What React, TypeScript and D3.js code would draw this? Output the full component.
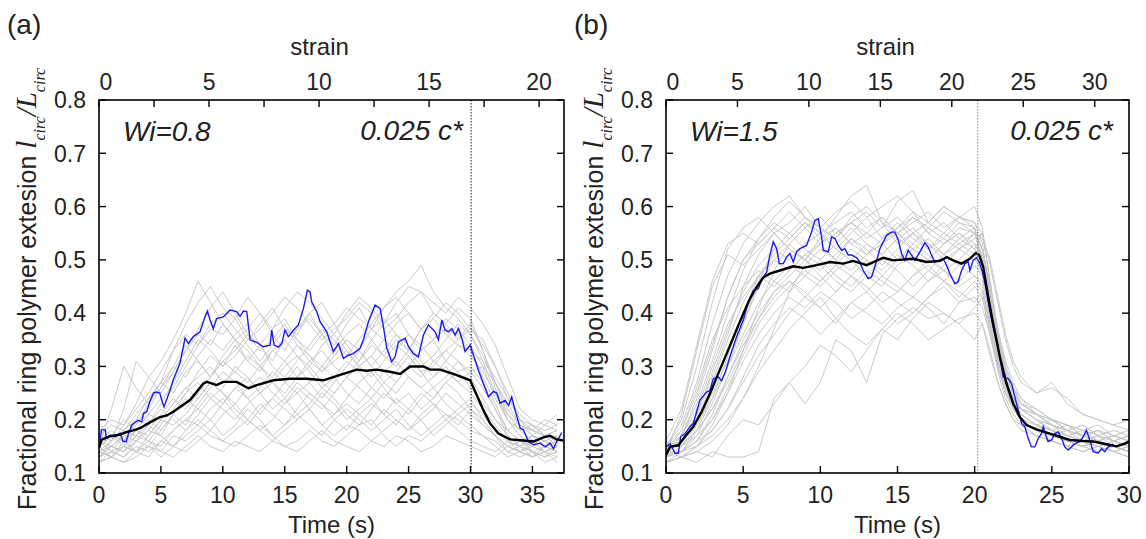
import React from "react";
import * as d3 from "d3";

// ---- panel (a) data ----
const leftTimes = [0,1,2,3,4,5,6,7,8,9,10,11,12,13,14,15,16,17,18,19,20,21,22,23,24,25,26,27,28,29,30,31,32,33,34,35,36,37];
const leftGray = [
  [0.15,0.17,0.16,0.2,0.24,0.27,0.33,0.38,0.42,0.45,0.41,0.39,0.43,0.4,0.37,0.41,0.44,0.42,0.39,0.36,0.4,0.43,0.41,0.38,0.42,0.45,0.44,0.4,0.38,0.41,0.39,0.33,0.27,0.22,0.19,0.18,0.17,0.16],
  [0.14,0.13,0.16,0.18,0.21,0.24,0.26,0.3,0.34,0.37,0.36,0.39,0.35,0.38,0.41,0.37,0.36,0.4,0.42,0.38,0.41,0.39,0.37,0.41,0.44,0.46,0.49,0.44,0.41,0.39,0.36,0.31,0.25,0.2,0.17,0.15,0.14,0.15],
  [0.18,0.2,0.19,0.23,0.28,0.31,0.35,0.4,0.46,0.42,0.38,0.35,0.37,0.4,0.36,0.33,0.37,0.39,0.36,0.34,0.38,0.41,0.37,0.35,0.38,0.4,0.37,0.35,0.39,0.37,0.34,0.3,0.24,0.2,0.18,0.19,0.17,0.18],
  [0.13,0.16,0.22,0.31,0.28,0.25,0.29,0.33,0.36,0.34,0.38,0.35,0.31,0.34,0.37,0.39,0.35,0.33,0.36,0.38,0.34,0.31,0.35,0.38,0.4,0.36,0.33,0.35,0.37,0.36,0.33,0.28,0.23,0.18,0.16,0.15,0.17,0.16],
  [0.16,0.15,0.17,0.19,0.22,0.26,0.3,0.28,0.32,0.35,0.33,0.36,0.38,0.34,0.31,0.35,0.37,0.4,0.36,0.32,0.35,0.33,0.37,0.39,0.36,0.33,0.37,0.4,0.38,0.35,0.37,0.34,0.3,0.25,0.2,0.17,0.16,0.17],
  [0.12,0.14,0.13,0.16,0.19,0.17,0.21,0.25,0.29,0.32,0.3,0.34,0.31,0.29,0.33,0.35,0.32,0.3,0.34,0.36,0.33,0.3,0.32,0.35,0.33,0.36,0.34,0.31,0.33,0.35,0.38,0.33,0.26,0.2,0.17,0.14,0.13,0.14],
  [0.17,0.19,0.18,0.21,0.24,0.27,0.25,0.29,0.31,0.28,0.32,0.35,0.33,0.3,0.28,0.31,0.34,0.32,0.29,0.31,0.33,0.3,0.28,0.31,0.34,0.32,0.29,0.3,0.33,0.31,0.29,0.26,0.22,0.18,0.16,0.17,0.19,0.18],
  [0.14,0.13,0.15,0.14,0.17,0.2,0.23,0.26,0.28,0.3,0.27,0.29,0.32,0.3,0.27,0.25,0.28,0.31,0.33,0.3,0.28,0.3,0.32,0.29,0.27,0.3,0.33,0.35,0.31,0.29,0.3,0.27,0.22,0.17,0.15,0.14,0.13,0.15],
  [0.15,0.17,0.2,0.18,0.16,0.19,0.22,0.25,0.27,0.24,0.26,0.3,0.28,0.25,0.27,0.3,0.32,0.29,0.26,0.28,0.31,0.29,0.26,0.24,0.27,0.3,0.28,0.31,0.29,0.27,0.29,0.3,0.27,0.23,0.19,0.17,0.15,0.16],
  [0.13,0.15,0.14,0.16,0.15,0.18,0.21,0.19,0.23,0.26,0.29,0.27,0.24,0.26,0.29,0.27,0.25,0.27,0.3,0.28,0.25,0.23,0.26,0.29,0.31,0.28,0.26,0.28,0.3,0.27,0.25,0.22,0.19,0.16,0.14,0.13,0.15,0.14],
  [0.19,0.17,0.16,0.18,0.21,0.2,0.23,0.26,0.24,0.27,0.25,0.23,0.26,0.28,0.25,0.23,0.26,0.24,0.22,0.25,0.28,0.26,0.24,0.27,0.25,0.28,0.26,0.24,0.27,0.29,0.26,0.23,0.2,0.18,0.2,0.19,0.17,0.18],
  [0.16,0.14,0.15,0.17,0.16,0.15,0.18,0.2,0.22,0.25,0.23,0.26,0.28,0.25,0.22,0.24,0.27,0.25,0.23,0.21,0.24,0.27,0.29,0.26,0.23,0.25,0.22,0.24,0.27,0.25,0.22,0.2,0.17,0.15,0.16,0.14,0.15,0.16],
  [0.14,0.16,0.18,0.17,0.19,0.22,0.2,0.18,0.21,0.24,0.22,0.2,0.23,0.25,0.27,0.24,0.21,0.23,0.26,0.24,0.21,0.19,0.22,0.25,0.23,0.21,0.24,0.26,0.23,0.21,0.23,0.21,0.18,0.16,0.15,0.17,0.16,0.15],
  [0.12,0.13,0.15,0.14,0.13,0.16,0.18,0.2,0.19,0.22,0.24,0.21,0.19,0.22,0.24,0.22,0.2,0.22,0.25,0.23,0.2,0.22,0.24,0.21,0.19,0.22,0.25,0.23,0.2,0.22,0.24,0.2,0.17,0.14,0.13,0.14,0.12,0.13],
  [0.17,0.15,0.14,0.16,0.18,0.17,0.15,0.18,0.2,0.18,0.21,0.23,0.2,0.18,0.2,0.23,0.25,0.22,0.19,0.21,0.23,0.21,0.19,0.22,0.2,0.18,0.21,0.23,0.21,0.19,0.22,0.19,0.17,0.15,0.14,0.16,0.17,0.15],
  [0.15,0.13,0.12,0.14,0.16,0.14,0.17,0.16,0.18,0.2,0.17,0.19,0.22,0.2,0.17,0.19,0.21,0.19,0.17,0.2,0.22,0.2,0.18,0.2,0.22,0.19,0.17,0.19,0.21,0.2,0.18,0.17,0.15,0.13,0.14,0.13,0.14,0.13],
  [0.13,0.14,0.13,0.15,0.14,0.16,0.15,0.17,0.19,0.17,0.16,0.18,0.2,0.18,0.16,0.18,0.2,0.22,0.19,0.17,0.19,0.18,0.16,0.18,0.2,0.18,0.2,0.17,0.19,0.21,0.19,0.17,0.16,0.14,0.15,0.14,0.13,0.14],
  [0.16,0.18,0.16,0.14,0.15,0.13,0.15,0.14,0.16,0.18,0.16,0.15,0.17,0.19,0.17,0.15,0.16,0.18,0.16,0.15,0.17,0.19,0.2,0.17,0.15,0.17,0.16,0.18,0.2,0.18,0.16,0.15,0.14,0.16,0.15,0.13,0.15,0.14],
  [0.12,0.13,0.12,0.13,0.15,0.14,0.13,0.15,0.17,0.15,0.14,0.16,0.15,0.14,0.16,0.15,0.14,0.16,0.18,0.16,0.15,0.14,0.16,0.15,0.17,0.16,0.14,0.15,0.17,0.16,0.15,0.14,0.13,0.15,0.14,0.13,0.14,0.12],
  [0.15,0.22,0.3,0.26,0.23,0.27,0.3,0.34,0.31,0.28,0.31,0.33,0.36,0.34,0.3,0.28,0.31,0.34,0.37,0.35,0.32,0.35,0.38,0.41,0.43,0.4,0.37,0.39,0.42,0.4,0.37,0.35,0.3,0.24,0.2,0.18,0.17,0.16],
  [0.17,0.16,0.18,0.2,0.19,0.23,0.27,0.31,0.35,0.33,0.3,0.32,0.35,0.37,0.4,0.43,0.41,0.38,0.35,0.37,0.39,0.42,0.4,0.37,0.39,0.42,0.44,0.42,0.4,0.43,0.41,0.38,0.34,0.28,0.22,0.2,0.19,0.21],
  [0.14,0.15,0.17,0.16,0.18,0.21,0.24,0.22,0.25,0.28,0.31,0.29,0.27,0.3,0.33,0.31,0.28,0.3,0.27,0.25,0.28,0.31,0.34,0.32,0.35,0.33,0.3,0.32,0.35,0.38,0.36,0.32,0.27,0.21,0.19,0.18,0.2,0.19],
  [0.16,0.14,0.17,0.19,0.23,0.26,0.29,0.33,0.37,0.41,0.44,0.4,0.36,0.33,0.35,0.38,0.34,0.31,0.29,0.32,0.35,0.33,0.3,0.33,0.36,0.34,0.31,0.28,0.31,0.34,0.32,0.29,0.25,0.21,0.18,0.16,0.15,0.17],
  [0.13,0.15,0.14,0.17,0.2,0.18,0.21,0.24,0.22,0.2,0.23,0.26,0.24,0.21,0.24,0.27,0.3,0.27,0.24,0.27,0.3,0.33,0.3,0.27,0.29,0.32,0.29,0.26,0.28,0.31,0.28,0.24,0.2,0.17,0.15,0.16,0.14,0.15],
  [0.18,0.16,0.19,0.22,0.25,0.29,0.33,0.36,0.34,0.38,0.4,0.37,0.34,0.31,0.34,0.37,0.35,0.32,0.3,0.33,0.36,0.38,0.35,0.32,0.3,0.33,0.37,0.39,0.36,0.34,0.33,0.31,0.28,0.24,0.21,0.19,0.18,0.19],
  [0.15,0.17,0.15,0.18,0.17,0.2,0.19,0.21,0.24,0.27,0.25,0.22,0.2,0.23,0.21,0.19,0.22,0.25,0.23,0.2,0.18,0.21,0.23,0.21,0.24,0.22,0.2,0.22,0.25,0.23,0.21,0.19,0.17,0.15,0.14,0.15,0.16,0.14],
];
const leftBlue = [
  [0.08,0.162],[0.2,0.181],[0.5,0.181],[0.6,0.166],[0.9,0.171],[1.3,0.168],[1.7,0.175],[1.95,0.159],[2.2,0.159],[2.4,0.175],[2.65,0.19],[3.15,0.199],[3.45,0.196],[3.6,0.212],[3.85,0.215],[4.1,0.234],[4.4,0.25],[4.65,0.252],[4.9,0.25],[5.15,0.231],[5.25,0.224],[5.45,0.237],[5.75,0.256],[6.0,0.275],[6.54,0.306],[6.95,0.353],[7.22,0.343],[7.62,0.356],[8.16,0.365],[8.56,0.393],[8.75,0.404],[8.97,0.387],[9.23,0.371],[9.5,0.39],[10.04,0.393],[10.58,0.406],[11.12,0.403],[11.39,0.394],[11.66,0.404],[11.93,0.403],[12.2,0.35],[12.74,0.345],[13.27,0.337],[13.81,0.34],[13.95,0.368],[14.14,0.34],[14.49,0.336],[14.76,0.343],[15.02,0.368],[15.29,0.356],[15.7,0.368],[16.1,0.378],[16.51,0.409],[16.83,0.443],[17.04,0.44],[17.18,0.421],[17.58,0.403],[17.85,0.384],[18.39,0.365],[18.93,0.328],[19.33,0.343],[19.74,0.315],[20.14,0.321],[20.54,0.324],[21.08,0.334],[21.35,0.35],[21.76,0.384],[22.29,0.415],[22.7,0.409],[22.97,0.374],[23.24,0.334],[23.64,0.309],[23.91,0.318],[24.18,0.346],[24.72,0.353],[24.99,0.337],[25.39,0.324],[25.79,0.318],[26.2,0.359],[26.6,0.378],[27.14,0.365],[27.41,0.35],[27.68,0.387],[27.95,0.368],[28.22,0.365],[28.49,0.371],[28.76,0.359],[29.03,0.371],[29.3,0.353],[29.56,0.328],[29.97,0.34],[30.24,0.321],[30.64,0.293],[31.04,0.268],[31.45,0.243],[31.85,0.253],[32.12,0.25],[32.39,0.231],[32.79,0.236],[33.07,0.227],[33.33,0.243],[33.6,0.218],[34.01,0.184],[34.27,0.181],[34.68,0.159],[35.08,0.153],[35.62,0.156],[36.03,0.149],[36.43,0.156],[36.7,0.146],[36.97,0.159],[37.37,0.176],
];
const leftBlack = [
  [0,0.147],[0.2,0.162],[0.9,0.169],[1.7,0.172],[2.23,0.177],[2.77,0.18],[3.31,0.184],[4.12,0.195],[4.93,0.205],[5.47,0.208],[6.0,0.215],[7.35,0.237],[8.43,0.268],[8.7,0.271],[9.5,0.265],[10.04,0.271],[11.12,0.271],[12.06,0.259],[12.74,0.265],[14.08,0.274],[15.43,0.277],[16.77,0.277],[18.12,0.274],[19.47,0.284],[20.81,0.294],[21.62,0.292],[22.43,0.294],[23.5,0.29],[24.31,0.286],[25.12,0.3],[26.2,0.3],[26.74,0.294],[27.54,0.294],[28.62,0.286],[29.97,0.274],[30.51,0.246],[31.04,0.218],[31.58,0.193],[32.26,0.174],[33.2,0.163],[34.27,0.161],[35.08,0.159],[35.89,0.167],[36.43,0.17],[36.97,0.163],[37.5,0.161],
];

// ---- panel (b) data ----
const rightTimes = [0,1,2,3,4,5,6,7,8,9,10,11,12,13,14,15,16,17,18,19,20,20.5,21,21.5,22,22.5,23,24,25,26,27,28,29,30];
const rightGray = [
  [0.15,0.2,0.3,0.42,0.52,0.56,0.58,0.55,0.57,0.6,0.56,0.54,0.58,0.6,0.57,0.55,0.58,0.56,0.59,0.57,0.56,0.48,0.38,0.3,0.25,0.22,0.2,0.18,0.17,0.16,0.15,0.16,0.15,0.14],
  [0.13,0.17,0.24,0.33,0.43,0.5,0.53,0.56,0.54,0.57,0.55,0.52,0.55,0.58,0.54,0.56,0.59,0.55,0.53,0.56,0.55,0.5,0.41,0.33,0.27,0.23,0.21,0.19,0.17,0.18,0.16,0.17,0.15,0.16],
  [0.14,0.16,0.21,0.28,0.36,0.45,0.51,0.55,0.52,0.5,0.54,0.58,0.62,0.64,0.57,0.53,0.55,0.52,0.54,0.57,0.55,0.52,0.44,0.35,0.29,0.25,0.22,0.2,0.18,0.17,0.18,0.16,0.17,0.16],
  [0.15,0.15,0.19,0.25,0.31,0.38,0.45,0.5,0.53,0.5,0.48,0.51,0.54,0.52,0.49,0.52,0.55,0.53,0.5,0.52,0.54,0.55,0.46,0.37,0.3,0.26,0.24,0.22,0.2,0.19,0.18,0.17,0.18,0.17],
  [0.12,0.13,0.15,0.19,0.25,0.33,0.41,0.48,0.53,0.56,0.58,0.55,0.57,0.59,0.56,0.61,0.63,0.57,0.55,0.58,0.56,0.5,0.4,0.32,0.27,0.24,0.22,0.2,0.19,0.17,0.16,0.15,0.16,0.15],
  [0.14,0.18,0.26,0.35,0.41,0.45,0.48,0.46,0.49,0.47,0.45,0.48,0.5,0.47,0.45,0.49,0.51,0.48,0.46,0.49,0.51,0.47,0.4,0.32,0.26,0.22,0.2,0.18,0.16,0.15,0.16,0.14,0.15,0.14],
  [0.13,0.15,0.18,0.22,0.28,0.34,0.39,0.43,0.46,0.44,0.41,0.44,0.47,0.45,0.42,0.44,0.47,0.49,0.46,0.43,0.46,0.44,0.38,0.31,0.26,0.23,0.21,0.19,0.18,0.17,0.16,0.17,0.16,0.15],
  [0.14,0.14,0.16,0.18,0.22,0.27,0.32,0.36,0.4,0.43,0.41,0.38,0.42,0.44,0.41,0.38,0.4,0.43,0.45,0.42,0.43,0.41,0.36,0.3,0.25,0.22,0.2,0.18,0.17,0.16,0.15,0.14,0.15,0.14],
  [0.13,0.14,0.15,0.17,0.2,0.24,0.29,0.33,0.37,0.4,0.43,0.39,0.36,0.34,0.37,0.4,0.38,0.35,0.37,0.39,0.4,0.38,0.32,0.27,0.23,0.2,0.19,0.17,0.16,0.15,0.14,0.15,0.14,0.13],
  [0.12,0.13,0.12,0.14,0.13,0.13,0.14,0.24,0.27,0.23,0.27,0.35,0.33,0.27,0.36,0.39,0.41,0.39,0.4,0.38,0.35,0.38,0.33,0.27,0.23,0.2,0.18,0.17,0.16,0.15,0.14,0.15,0.14,0.13],
  [0.12,0.13,0.14,0.13,0.17,0.2,0.19,0.23,0.27,0.3,0.34,0.32,0.29,0.33,0.37,0.35,0.39,0.42,0.4,0.38,0.41,0.43,0.36,0.29,0.24,0.21,0.19,0.17,0.16,0.15,0.16,0.15,0.14,0.15],
  [0.16,0.22,0.34,0.46,0.53,0.55,0.53,0.56,0.59,0.56,0.53,0.55,0.57,0.54,0.56,0.58,0.55,0.57,0.6,0.58,0.57,0.53,0.43,0.34,0.28,0.24,0.22,0.2,0.19,0.18,0.17,0.18,0.17,0.16],
  [0.14,0.16,0.2,0.27,0.35,0.42,0.47,0.5,0.48,0.51,0.53,0.5,0.48,0.51,0.53,0.5,0.52,0.54,0.51,0.53,0.55,0.54,0.5,0.43,0.36,0.31,0.28,0.25,0.26,0.24,0.21,0.2,0.19,0.2],
  [0.13,0.14,0.17,0.23,0.3,0.38,0.46,0.52,0.55,0.52,0.5,0.53,0.56,0.53,0.51,0.54,0.52,0.5,0.53,0.55,0.52,0.5,0.42,0.33,0.27,0.23,0.21,0.19,0.2,0.18,0.17,0.16,0.17,0.16],
  [0.15,0.16,0.19,0.24,0.3,0.36,0.42,0.46,0.44,0.47,0.5,0.47,0.45,0.48,0.46,0.44,0.47,0.5,0.48,0.45,0.47,0.45,0.38,0.31,0.26,0.23,0.22,0.2,0.18,0.19,0.17,0.16,0.17,0.16],
  [0.14,0.17,0.23,0.31,0.4,0.48,0.54,0.58,0.61,0.58,0.56,0.59,0.61,0.58,0.6,0.62,0.59,0.57,0.6,0.58,0.6,0.56,0.45,0.35,0.28,0.24,0.21,0.19,0.18,0.17,0.16,0.15,0.16,0.15],
  [0.13,0.15,0.18,0.22,0.27,0.33,0.39,0.44,0.47,0.5,0.47,0.44,0.47,0.5,0.48,0.51,0.49,0.46,0.49,0.52,0.5,0.49,0.41,0.33,0.28,0.25,0.23,0.21,0.19,0.18,0.17,0.18,0.16,0.17],
  [0.16,0.15,0.17,0.2,0.25,0.31,0.36,0.4,0.43,0.41,0.44,0.42,0.39,0.41,0.44,0.42,0.4,0.43,0.46,0.44,0.42,0.44,0.37,0.3,0.26,0.24,0.22,0.21,0.19,0.18,0.19,0.17,0.16,0.17],
  [0.12,0.13,0.14,0.16,0.19,0.24,0.3,0.37,0.44,0.49,0.52,0.5,0.54,0.51,0.53,0.55,0.52,0.5,0.53,0.55,0.53,0.51,0.43,0.34,0.28,0.24,0.21,0.19,0.18,0.16,0.15,0.16,0.15,0.14],
  [0.15,0.18,0.25,0.34,0.43,0.5,0.54,0.57,0.55,0.58,0.56,0.54,0.57,0.55,0.53,0.56,0.58,0.55,0.57,0.54,0.56,0.52,0.44,0.36,0.3,0.26,0.23,0.22,0.2,0.19,0.18,0.19,0.17,0.18],
  [0.14,0.16,0.21,0.29,0.37,0.44,0.49,0.52,0.5,0.53,0.55,0.52,0.5,0.53,0.51,0.54,0.56,0.53,0.51,0.54,0.52,0.55,0.49,0.42,0.35,0.3,0.27,0.25,0.27,0.23,0.21,0.2,0.19,0.18],
  [0.13,0.14,0.16,0.21,0.28,0.35,0.4,0.44,0.46,0.43,0.46,0.49,0.47,0.44,0.47,0.45,0.43,0.46,0.48,0.46,0.49,0.47,0.4,0.32,0.27,0.23,0.2,0.18,0.17,0.16,0.15,0.14,0.15,0.16],
  [0.15,0.19,0.27,0.38,0.47,0.53,0.57,0.6,0.62,0.58,0.55,0.57,0.59,0.56,0.58,0.55,0.57,0.59,0.56,0.58,0.57,0.55,0.46,0.36,0.29,0.25,0.23,0.21,0.19,0.17,0.16,0.17,0.16,0.15],
  [0.14,0.13,0.15,0.18,0.22,0.28,0.34,0.38,0.41,0.39,0.36,0.39,0.42,0.4,0.38,0.41,0.43,0.41,0.38,0.42,0.45,0.43,0.36,0.3,0.25,0.22,0.2,0.19,0.17,0.16,0.15,0.16,0.14,0.15],
  [0.14,0.21,0.33,0.45,0.51,0.49,0.52,0.55,0.52,0.5,0.53,0.56,0.53,0.51,0.54,0.57,0.54,0.52,0.55,0.53,0.51,0.5,0.41,0.33,0.27,0.24,0.22,0.21,0.19,0.18,0.17,0.16,0.17,0.16],
  [0.13,0.14,0.18,0.24,0.32,0.4,0.47,0.51,0.54,0.57,0.54,0.56,0.53,0.55,0.58,0.55,0.53,0.56,0.54,0.52,0.55,0.52,0.45,0.37,0.31,0.27,0.24,0.21,0.2,0.18,0.19,0.17,0.16,0.17],
  [0.15,0.17,0.22,0.3,0.38,0.43,0.47,0.45,0.48,0.51,0.49,0.46,0.44,0.47,0.5,0.48,0.45,0.48,0.51,0.49,0.47,0.46,0.39,0.31,0.26,0.22,0.2,0.18,0.17,0.16,0.15,0.16,0.15,0.14],
  [0.12,0.14,0.16,0.2,0.26,0.32,0.38,0.42,0.45,0.48,0.46,0.49,0.52,0.5,0.47,0.5,0.53,0.51,0.48,0.5,0.53,0.5,0.43,0.35,0.29,0.26,0.23,0.21,0.2,0.19,0.17,0.18,0.16,0.15],
];
const rightBlue = [
  [0,0.149],[0.26,0.155],[0.43,0.146],[0.58,0.137],[0.8,0.137],[0.95,0.168],[1.23,0.174],[1.55,0.187],[1.77,0.193],[2.2,0.237],[2.63,0.252],[2.85,0.255],[3.06,0.277],[3.39,0.28],[3.6,0.273],[3.82,0.287],[4.14,0.318],[4.58,0.356],[5.01,0.387],[5.33,0.421],[5.66,0.443],[5.98,0.446],[6.2,0.462],[6.52,0.477],[6.73,0.509],[6.95,0.534],[7.17,0.521],[7.34,0.493],[7.6,0.493],[7.81,0.505],[8.03,0.512],[8.25,0.496],[8.46,0.515],[8.68,0.521],[9.11,0.527],[9.43,0.552],[9.65,0.574],[9.87,0.577],[10.08,0.543],[10.19,0.518],[10.51,0.515],[10.73,0.543],[10.95,0.54],[11.16,0.527],[11.38,0.518],[11.59,0.521],[11.81,0.509],[12.03,0.509],[12.35,0.504],[12.56,0.496],[12.78,0.48],[13.1,0.465],[13.32,0.468],[13.6,0.493],[13.86,0.521],[14.29,0.546],[14.61,0.552],[14.83,0.552],[15.05,0.537],[15.26,0.512],[15.48,0.499],[15.69,0.518],[15.91,0.509],[16.13,0.499],[16.45,0.515],[16.77,0.532],[16.99,0.524],[17.2,0.509],[17.42,0.496],[17.64,0.499],[17.96,0.502],[18.18,0.49],[18.39,0.474],[18.72,0.455],[18.93,0.459],[19.15,0.48],[19.37,0.493],[19.58,0.496],[19.69,0.48],[19.9,0.499],[20.12,0.504],[20.29,0.496],[20.51,0.477],[20.72,0.449],[20.98,0.405],[21.2,0.374],[21.42,0.352],[21.63,0.318],[21.85,0.28],[22.17,0.277],[22.39,0.268],[22.6,0.243],[22.82,0.218],[23.04,0.193],[23.25,0.187],[23.47,0.165],[23.68,0.149],[23.9,0.149],[24.12,0.165],[24.33,0.174],[24.44,0.187],[24.61,0.171],[24.76,0.159],[24.98,0.162],[25.19,0.174],[25.41,0.177],[25.63,0.165],[25.84,0.149],[26.06,0.143],[26.27,0.149],[26.49,0.155],[26.81,0.159],[27.03,0.168],[27.24,0.18],[27.46,0.162],[27.68,0.14],[28.0,0.137],[28.22,0.146],[28.43,0.14],[28.65,0.149],[28.86,0.152],[28.97,0.155],
];
const rightBlack = [
  [0,0.134],[0.26,0.149],[0.8,0.152],[1.23,0.168],[1.77,0.187],[2.31,0.215],[2.85,0.249],[3.39,0.287],[3.93,0.324],[4.47,0.362],[5.01,0.399],[5.44,0.427],[5.87,0.449],[6.3,0.467],[6.73,0.474],[7.38,0.48],[8.25,0.488],[8.89,0.485],[9.76,0.49],[10.62,0.496],[11.49,0.493],[12.13,0.498],[13.0,0.49],[14.08,0.504],[14.72,0.499],[16.02,0.502],[16.88,0.496],[17.75,0.498],[18.18,0.505],[18.61,0.499],[19.15,0.493],[19.69,0.502],[20.08,0.513],[20.29,0.509],[20.55,0.487],[20.88,0.43],[21.2,0.38],[21.63,0.318],[22.06,0.268],[22.5,0.23],[22.93,0.205],[23.36,0.19],[24.0,0.182],[24.87,0.174],[25.52,0.168],[26.17,0.162],[27.03,0.16],[27.68,0.159],[28.54,0.154],[29.19,0.15],[29.73,0.155],[30.0,0.159],
];

// ---- axes ----
const yTicks = [0.1,0.2,0.3,0.4,0.5,0.6,0.7,0.8];
const leftTimeTicks = [0,5,10,15,20,25,30,35];
const rightTimeTicks = [0,5,10,15,20,25,30];
const leftStrainTicks = [0,2.5,5,7.5,10,12.5,15,17.5,20];
const leftStrainLabels = [0,5,10,15,20];
const rightStrainTicks = [0,5,10,15,20,25,30];
const rightStrainLabels = [0,5,10,15,20,25,30];

const SANS = "'Liberation Sans', Arial, sans-serif";
const SERIF = "'Liberation Serif', 'Times New Roman', serif";
const TOP = 100;
const BOTTOM = 473;

type PanelProps = {
  id: string;
  letter: string;
  left: number;
  right: number;
  tMax: number;
  strainMax: number;
  times: number[];
  gray: number[][];
  blue: number[][];
  black: number[][];
  timeTicks: number[];
  strainTicks: number[];
  strainLabels: number[];
  wi: string;
  concEnd: number;
  dashT: number;
  dashColor: string;
};

const Panel = (p: PanelProps) => {
  const x = d3.scaleLinear().domain([0, p.tMax]).range([p.left, p.right]);
  const xs = d3.scaleLinear().domain([0, p.strainMax]).range([p.left, p.right]);
  const y = d3.scaleLinear().domain([0.1, 0.8]).range([BOTTOM, TOP]);
  const line = d3
    .line<number[]>()
    .x((d) => x(d[0]))
    .y((d) => y(d[1]));
  const tick = 7;
  const fmt = d3.format(".1f");
  const labelX = p.left - 63;

  return (
    <g>
      <defs>
        <clipPath id={p.id}>
          <rect x={p.left} y={TOP} width={p.right - p.left} height={BOTTOM - TOP} />
        </clipPath>
      </defs>

      <g clipPath={`url(#${p.id})`} fill="none">
        {p.gray.map((vals, i) => (
          <path
            key={i}
            d={line(vals.slice(0, p.times.length).map((v, j) => [p.times[j], v])) || ""}
            stroke="#c6c6c6"
            strokeWidth={0.95}
          />
        ))}
        <path d={line(p.blue) || ""} stroke="#1a1af0" strokeWidth={1.4} />
        <path d={line(p.black) || ""} stroke="#000" strokeWidth={2.4} />
      </g>

      {/* dashed marker */}
      <line
        x1={x(p.dashT)}
        x2={x(p.dashT)}
        y1={TOP}
        y2={BOTTOM}
        stroke={p.dashColor}
        strokeWidth={0.9}
        strokeDasharray="1.5,1.5"
      />

      {/* frame */}
      <rect
        x={p.left}
        y={TOP}
        width={p.right - p.left}
        height={BOTTOM - TOP}
        fill="none"
        stroke="#000"
        strokeWidth={1.6}
      />

      {/* y ticks both sides */}
      {yTicks.map((v) => (
        <g key={v}>
          <line x1={p.left} x2={p.left + tick} y1={y(v)} y2={y(v)} stroke="#000" strokeWidth={1.4} />
          <line x1={p.right} x2={p.right - tick} y1={y(v)} y2={y(v)} stroke="#000" strokeWidth={1.4} />
          <text
            x={p.left - 13}
            y={y(v)}
            dy="0.36em"
            textAnchor="end"
            fontFamily={SANS}
            fontSize={23}
            fill="#222"
          >
            {fmt(v)}
          </text>
        </g>
      ))}

      {/* bottom time axis */}
      {p.timeTicks.map((t) => (
        <g key={t}>
          <line x1={x(t)} x2={x(t)} y1={BOTTOM} y2={BOTTOM - tick} stroke="#000" strokeWidth={1.4} />
          <text x={x(t)} y={503} textAnchor="middle" fontFamily={SANS} fontSize={23} fill="#222">
            {t}
          </text>
        </g>
      ))}
      <text
        x={(p.left + p.right) / 2}
        y={533}
        textAnchor="middle"
        fontFamily={SANS}
        fontSize={24}
        fill="#222"
      >
        Time (s)
      </text>

      {/* top strain axis */}
      {p.strainTicks.map((s) => (
        <line key={s} x1={xs(s)} x2={xs(s)} y1={TOP} y2={TOP + tick} stroke="#000" strokeWidth={1.4} />
      ))}
      {p.strainLabels.map((s) => (
        <text
          key={s}
          x={xs(s) + (s === 0 ? 7 : 0)}
          y={90}
          textAnchor="middle"
          fontFamily={SANS}
          fontSize={23}
          fill="#222"
        >
          {s}
        </text>
      ))}
      <text
        x={(p.left + p.right) / 2 - 12}
        y={55}
        textAnchor="middle"
        fontFamily={SANS}
        fontSize={24}
        fill="#222"
      >
        strain
      </text>

      {/* annotations */}
      <text x={p.left + 24} y={141} fontFamily={SANS} fontSize={28} fontStyle="italic" fill="#222">
        {p.wi}
      </text>
      <text
        x={p.concEnd}
        y={140}
        textAnchor="end"
        fontFamily={SANS}
        fontSize={28}
        fontStyle="italic"
        fill="#222"
      >
        0.025 c*
      </text>
      <text x={p.left - 92} y={34} fontFamily={SANS} fontSize={28} fill="#222">
        {p.letter}
      </text>

      {/* rotated y label */}
      <text
        transform={`translate(${labelX}, 510) rotate(-90)`}
        fontFamily={SANS}
        fontSize={25}
        fill="#222"
      >
        Fractional ring polymer extesion
        <tspan fontFamily={SERIF} fontStyle="italic" fontSize={29} dx={7}>
          l
        </tspan>
        <tspan fontFamily={SERIF} fontStyle="italic" fontSize={16} dy={9}>
          circ
        </tspan>
        <tspan fontFamily={SERIF} fontStyle="italic" fontSize={29} dy={-9}>
          /L
        </tspan>
        <tspan fontFamily={SERIF} fontStyle="italic" fontSize={16} dy={9}>
          circ
        </tspan>
      </text>
    </g>
  );
};

export default function App() {
  return (
    <svg
      width={1146}
      height={539}
      viewBox="0 0 1146 539"
      style={{ position: "absolute", left: 0, top: 0, background: "#fff" }}
    >
      <Panel
        id="clipA"
        letter="(a)"
        left={99}
        right={564}
        tMax={37.55}
        strainMax={21.13}
        times={leftTimes}
        gray={leftGray}
        blue={leftBlue}
        black={leftBlack}
        timeTicks={leftTimeTicks}
        strainTicks={leftStrainTicks}
        strainLabels={leftStrainLabels}
        wi="Wi=0.8"
        concEnd={463}
        dashT={30.05}
        dashColor="#000"
      />
      <Panel
        id="clipB"
        letter="(b)"
        left={666}
        right={1129}
        tMax={30}
        strainMax={32.4}
        times={rightTimes}
        gray={rightGray}
        blue={rightBlue}
        black={rightBlack}
        timeTicks={rightTimeTicks}
        strainTicks={rightStrainTicks}
        strainLabels={rightStrainLabels}
        wi="Wi=1.5"
        concEnd={1113}
        dashT={20.2}
        dashColor="#777"
      />
    </svg>
  );
}
